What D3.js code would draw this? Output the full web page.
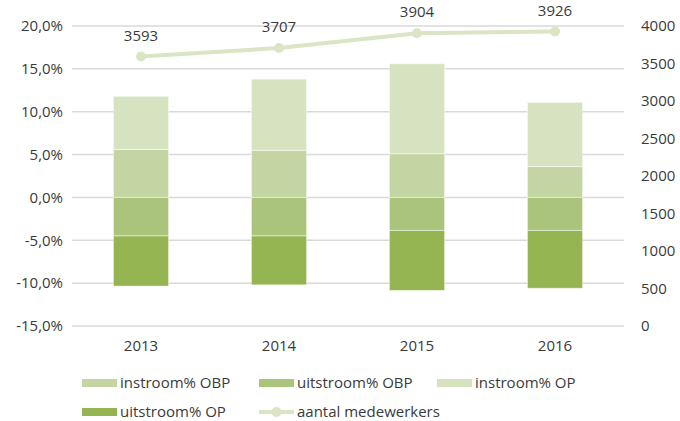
<!DOCTYPE html>
<html>
<head>
<meta charset="utf-8">
<script src="https://cdn.jsdelivr.net/npm/d3@7"></script>
<style>
  body { margin: 0; background: #fff; }
  text { font-family: "Open Sans", "Noto Sans", sans-serif; fill: #3a3a3a; }
</style>
</head>
<body>
<div id="chart"></div>
<script>
const years = ["2013", "2014", "2015", "2016"];
const instroomOBP = [5.6, 5.5, 5.1, 3.6];
const instroomOP = [6.2, 8.3, 10.5, 7.5];
const uitstroomOBP = [-4.5, -4.5, -3.85, -3.85];
const uitstroomOP = [-5.85, -5.7, -7.0, -6.75];
const medewerkers = [3593, 3707, 3904, 3926];
const leftTicks = [-15, -10, -5, 0, 5, 10, 15, 20];
const rightTicks = [0, 500, 1000, 1500, 2000, 2500, 3000, 3500, 4000];

const width = 680, height = 421;
const margin = { top: 26, right: 56, bottom: 95, left: 72 };

const colors = {
  instroomOBP: "#c4d4a2",
  uitstroomOBP: "#abc47b",
  instroomOP: "#d7e3c0",
  uitstroomOP: "#95b552",
  line: "#d9e5c5"
};

const svg = d3.select("#chart").append("svg")
  .attr("width", width)
  .attr("height", height);

const x = d3.scaleBand()
  .domain(years)
  .range([margin.left, width - margin.right])
  .paddingInner(0.6)
  .paddingOuter(0.3);

const y = d3.scaleLinear()
  .domain([-15, 20])
  .range([height - margin.bottom, margin.top]);

const y2 = d3.scaleLinear()
  .domain([0, 4000])
  .range([height - margin.bottom, margin.top]);

const fmtPct = d => d.toFixed(1).replace(".", ",") + "%";

// gridlines
svg.append("g")
  .selectAll("line")
  .data(leftTicks)
  .enter().append("line")
  .attr("x1", margin.left)
  .attr("x2", width - margin.right)
  .attr("y1", d => y(d))
  .attr("y2", d => y(d))
  .attr("stroke", "#d9d9d9")
  .attr("stroke-width", 1.5);

// left axis labels
svg.append("g")
  .selectAll("text")
  .data(leftTicks)
  .enter().append("text")
  .attr("x", margin.left - 9)
  .attr("y", d => y(d))
  .attr("dy", "0.35em")
  .attr("text-anchor", "end")
  .style("font-size", "15px")
  .text(fmtPct);

// right axis labels
svg.append("g")
  .selectAll("text")
  .data(rightTicks)
  .enter().append("text")
  .attr("x", width - margin.right + 17)
  .attr("y", d => y2(d))
  .attr("dy", "0.35em")
  .attr("text-anchor", "start")
  .style("font-size", "15px")
  .text(d => d);

// x labels
svg.append("g")
  .selectAll("text")
  .data(years)
  .enter().append("text")
  .attr("x", d => x(d) + x.bandwidth() / 2)
  .attr("y", height - margin.bottom + 25)
  .attr("text-anchor", "middle")
  .style("font-size", "15px")
  .text(d => d);

// stacked bars
const segments = [];
years.forEach((yr, i) => {
  segments.push({ yr, y0: 0, y1: instroomOBP[i], c: colors.instroomOBP });
  segments.push({ yr, y0: instroomOBP[i], y1: instroomOBP[i] + instroomOP[i], c: colors.instroomOP });
  segments.push({ yr, y0: 0, y1: uitstroomOBP[i], c: colors.uitstroomOBP });
  segments.push({ yr, y0: uitstroomOBP[i], y1: uitstroomOBP[i] + uitstroomOP[i], c: colors.uitstroomOP });
});

svg.append("g")
  .selectAll("rect")
  .data(segments)
  .enter().append("rect")
  .attr("x", d => x(d.yr))
  .attr("width", x.bandwidth())
  .attr("y", d => y(Math.max(d.y0, d.y1)))
  .attr("height", d => Math.abs(y(d.y0) - y(d.y1)))
  .attr("fill", d => d.c)
  .attr("stroke", "#ffffff")
  .attr("stroke-opacity", 0.5)
  .attr("stroke-width", 1);

// line
const line = d3.line()
  .x((d, i) => x(years[i]) + x.bandwidth() / 2)
  .y(d => y2(d));

svg.append("path")
  .datum(medewerkers)
  .attr("d", line)
  .attr("fill", "none")
  .attr("stroke", colors.line)
  .attr("stroke-width", 4);

svg.append("g")
  .selectAll("circle")
  .data(medewerkers)
  .enter().append("circle")
  .attr("cx", (d, i) => x(years[i]) + x.bandwidth() / 2)
  .attr("cy", d => y2(d))
  .attr("r", 5)
  .attr("fill", colors.line);

svg.append("g")
  .selectAll("text")
  .data(medewerkers)
  .enter().append("text")
  .attr("x", (d, i) => x(years[i]) + x.bandwidth() / 2)
  .attr("y", d => y2(d) - 16)
  .attr("text-anchor", "middle")
  .style("font-size", "15px")
  .text(d => d);

// legend
const legendItems = [
  { name: "instroom% OBP", c: colors.instroomOBP, type: "rect", col: 0, row: 0 },
  { name: "uitstroom% OBP", c: colors.uitstroomOBP, type: "rect", col: 1, row: 0 },
  { name: "instroom% OP", c: colors.instroomOP, type: "rect", col: 2, row: 0 },
  { name: "uitstroom% OP", c: colors.uitstroomOP, type: "rect", col: 0, row: 1 },
  { name: "aantal medewerkers", c: colors.line, type: "line", col: 1, row: 1 }
];
const colX = [82, 259, 437];
const rowY = [383, 412];

const lg = svg.append("g")
  .selectAll("g")
  .data(legendItems)
  .enter().append("g")
  .attr("transform", d => "translate(" + colX[d.col] + "," + rowY[d.row] + ")");

lg.filter(d => d.type === "rect").append("rect")
  .attr("x", 0)
  .attr("y", -4)
  .attr("width", 35)
  .attr("height", 8)
  .attr("fill", d => d.c);

lg.filter(d => d.type === "line").append("line")
  .attr("x1", 0)
  .attr("x2", 35)
  .attr("stroke", d => d.c)
  .attr("stroke-width", 4);

lg.filter(d => d.type === "line").append("circle")
  .attr("cx", 17.5)
  .attr("r", 5)
  .attr("fill", d => d.c);

lg.append("text")
  .attr("x", 38)
  .attr("dy", "0.35em")
  .style("font-size", "15px")
  .text(d => d.name);
</script>
</body>
</html>
